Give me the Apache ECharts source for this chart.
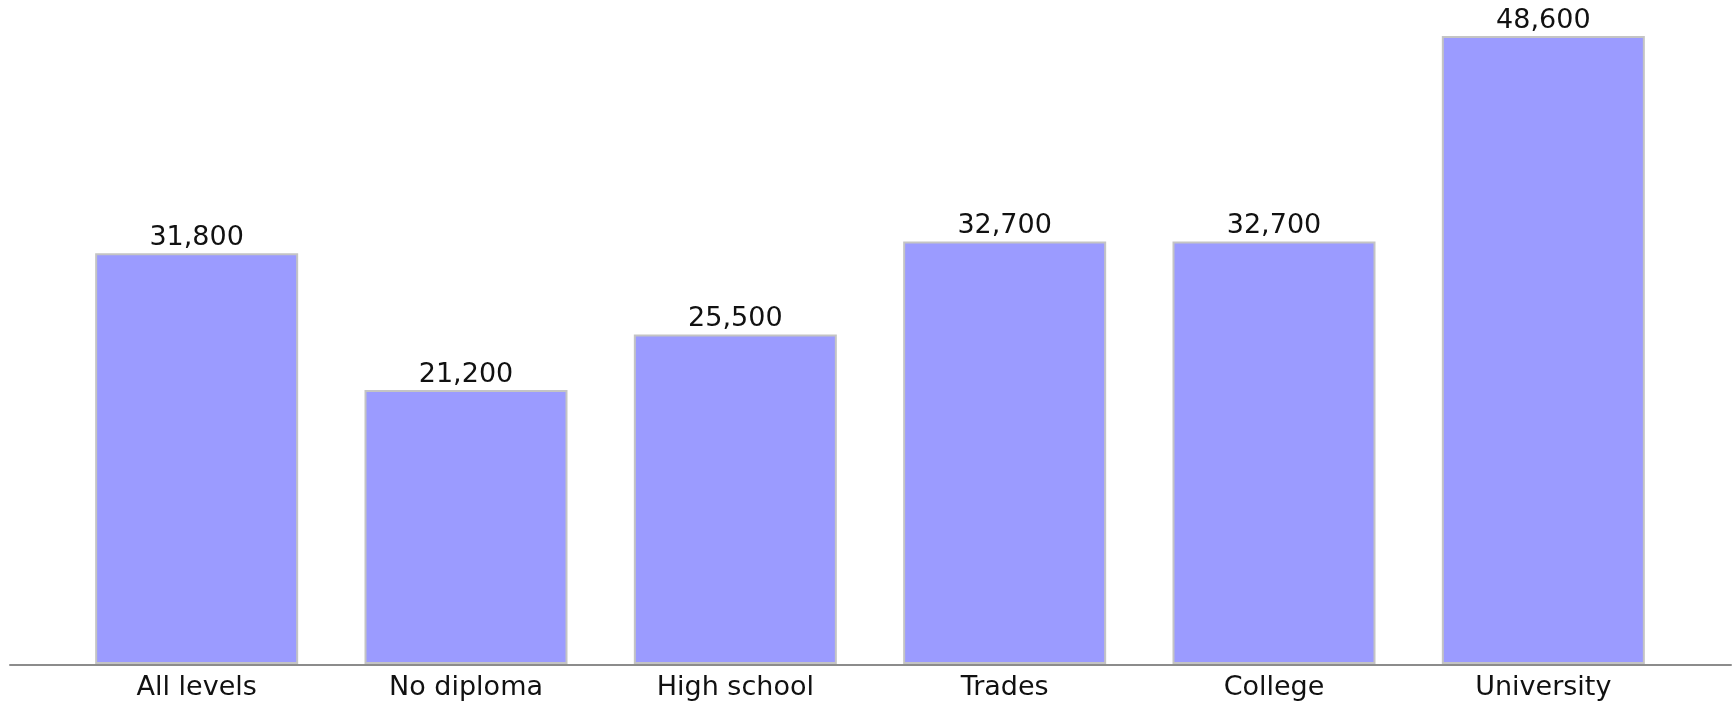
<!DOCTYPE html>
<html>
<head>
<meta charset="utf-8">
<script src="https://cdn.jsdelivr.net/npm/echarts@6/dist/echarts.min.js"></script>
<style>html,body{margin:0;padding:0;background:#fff}#c{width:1736px;height:701px}</style>
</head>
<body>
<div id="c"></div>
<script>
const categories = ['All levels', 'No diploma', 'High school', 'Trades', 'College', 'University'];
const values = [31800, 21200, 25500, 32700, 32700, 48600];

const chart = echarts.init(document.getElementById('c'), null, {renderer: 'canvas'});
const font = '"DejaVu Sans", sans-serif';
chart.setOption({
  animation: false,
  backgroundColor: '#ffffff',
  grid: [
    {left: 62, right: 58, top: 18, bottom: 36},
    {left: 10, right: 5, top: 18, bottom: 36}
  ],
  xAxis: [
    {
      type: 'category', gridIndex: 0, data: categories,
      axisLine: {show: false}, axisTick: {show: false},
      axisLabel: {color: '#111', fontFamily: font, fontSize: 27, margin: 10}
    },
    {
      type: 'value', gridIndex: 1, min: 0, max: 1,
      axisLine: {show: true, onZero: false, lineStyle: {color: '#8c8c8c', width: 2}},
      axisTick: {show: false}, axisLabel: {show: false}, splitLine: {show: false}
    }
  ],
  yAxis: [
    {type: 'value', gridIndex: 0, min: 0, max: 50000, show: false, splitLine: {show: false}},
    {type: 'value', gridIndex: 1, min: 0, max: 1, show: false, splitLine: {show: false}}
  ],
  series: [{
    type: 'bar', xAxisIndex: 0, yAxisIndex: 0,
    data: values, barWidth: 203,
    itemStyle: {color: '#9b9bff', borderColor: '#c4c4c4', borderWidth: 2},
    label: {
      show: true, position: 'top', distance: 2,
      color: '#111', fontFamily: font, fontSize: 27,
      formatter: p => p.value.toLocaleString('en-US')
    }
  }]
});
</script>
</body>
</html>
